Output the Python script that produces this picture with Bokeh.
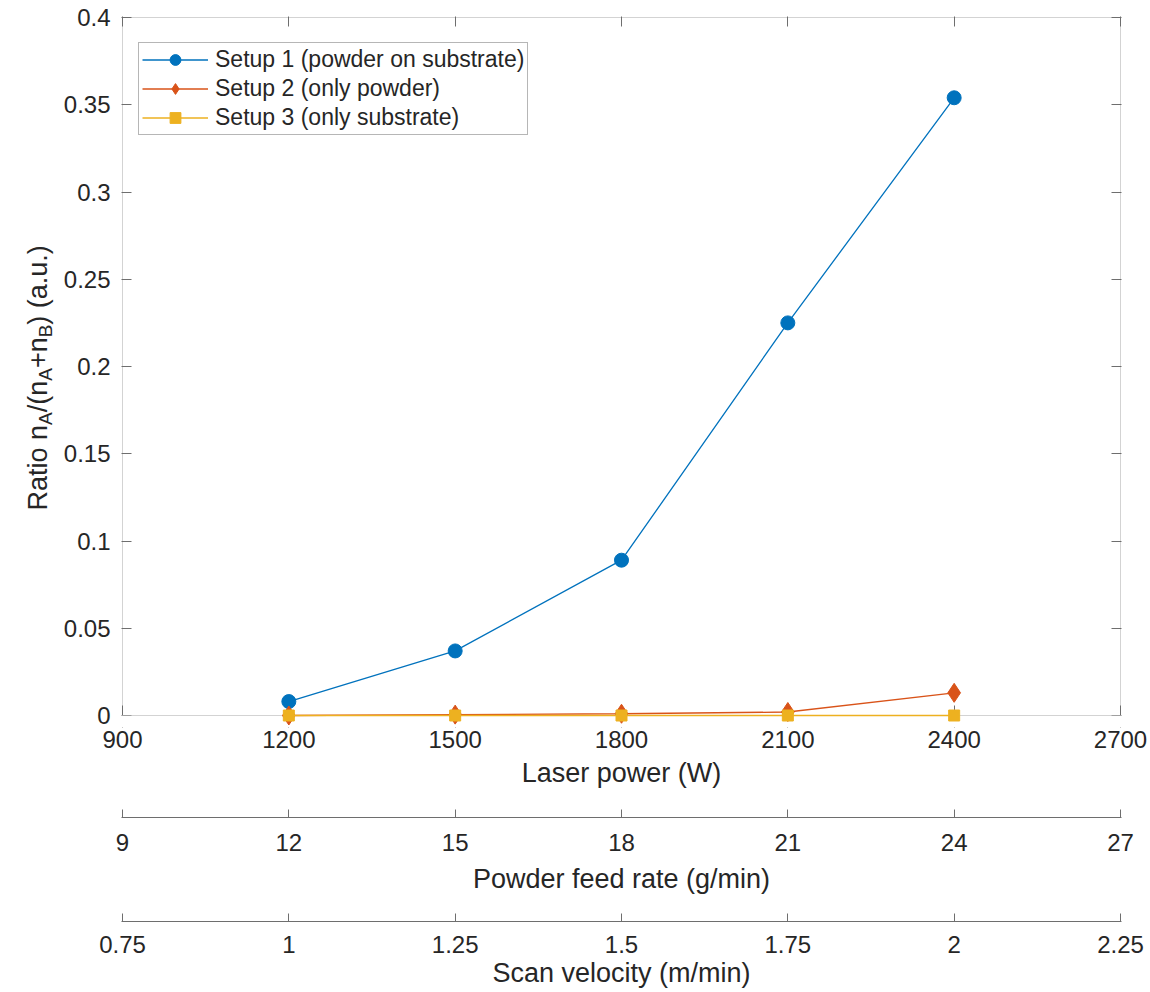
from bokeh.plotting import figure
from bokeh.layouts import row, column
from bokeh.models import (Range1d, LinearAxis, FixedTicker, BoxAnnotation,
                          Legend, LegendItem, CustomJSTickFormatter, ColumnDataSource)
from bokeh.core.properties import value
from bokeh.embed import file_html
from bokeh.resources import INLINE
import math

# ---------------- data ----------------
laser_power = [1200, 1500, 1800, 2100, 2400]
setup1 = [0.008, 0.037, 0.089, 0.225, 0.354]
setup2 = [0.0, 0.0005, 0.001, 0.002, 0.013]
setup3 = [0.0, 0.0, 0.0, 0.0, 0.0]
series_names = ["Setup 1 (powder on substrate)", "Setup 2 (only powder)", "Setup 3 (only substrate)"]

x_ticks = [900, 1200, 1500, 1800, 2100, 2400, 2700]
x_labels = ["900", "1200", "1500", "1800", "2100", "2400", "2700"]
feed_ticks = [9, 12, 15, 18, 21, 24, 27]
feed_labels = ["9", "12", "15", "18", "21", "24", "27"]
scan_ticks = [0.75, 1, 1.25, 1.5, 1.75, 2, 2.25]
scan_labels = ["0.75", "1", "1.25", "1.5", "1.75", "2", "2.25"]
y_ticks = [0, 0.05, 0.1, 0.15, 0.2, 0.25, 0.3, 0.35, 0.4]
y_labels = ["0", "0.05", "0.1", "0.15", "0.2", "0.25", "0.3", "0.35", "0.4"]

x_title = "Laser power (W)"
feed_title = "Powder feed rate (g/min)"
scan_title = "Scan velocity (m/min)"
# y title pieces: (text, is_subscript)
y_title_parts = [("Ratio n", False), ("A", True), ("/(n", False), ("A", True),
                 ("+n", False), ("B", True), (") (a.u.)", False)]

# ---------------- style ----------------
FONT = "Liberation Sans"
AX = "#6e6e6e"
TXT = "#262626"
C1, C2, C3 = "#0072BD", "#D95319", "#EDB120"
TICK_FS = "24px"
TITLE_FS = "27px"

BOX_W = 998          # pixel width of the box
BOX_H = 698          # pixel height of the 0..0.4 box
EXTRA = 12           # extra frame pixels below 0 so markers are not clipped
TITLE_W = 60         # width of the y-title strip
LEFT = 60            # left border of the plots (after the title strip)
RIGHT = 28


def padded(lo, hi):
    d = (hi - lo) / BOX_W
    return Range1d(lo - d, hi + d)


u = (y_ticks[-1] - y_ticks[0]) / BOX_H


def style_axis(ax, tick_in):
    ax.major_tick_in = tick_in
    ax.major_tick_out = 0
    ax.minor_tick_line_color = None
    ax.major_tick_line_color = AX
    ax.major_tick_line_width = 1
    ax.major_label_text_font = FONT
    ax.major_label_text_font_size = TICK_FS
    ax.major_label_text_color = TXT
    ax.axis_label_text_font = FONT
    ax.axis_label_text_font_size = TITLE_FS
    ax.axis_label_text_font_style = "normal"
    ax.axis_label_text_color = TXT


# ---------------- main plot ----------------
p = figure(frame_width=BOX_W + 2, frame_height=BOX_H + EXTRA + 1,
           x_range=padded(x_ticks[0], x_ticks[-1]),
           y_range=Range1d(y_ticks[0] - EXTRA * u, y_ticks[-1] + u),
           output_backend="svg", toolbar_location=None,
           min_border_left=LEFT, min_border_right=RIGHT, min_border_top=16, min_border_bottom=0,
           background_fill_color="white", border_fill_color="white")
p.grid.visible = False
p.outline_line_color = None

# white strip below zero hides the lower part of the bottom ticks
strip = BoxAnnotation(top=y_ticks[0], fill_color="white", fill_alpha=1, line_color=None, level="annotation")
p.add_layout(strip)
box = BoxAnnotation(left=x_ticks[0], right=x_ticks[-1], bottom=y_ticks[0], top=y_ticks[-1],
                    fill_color=None, line_color=AX, line_width=1, level="annotation")
p.add_layout(box)

ya = p.left[0]
style_axis(ya, 10)
ya.axis_line_color = None
ya.ticker = FixedTicker(ticks=y_ticks)
ya.major_label_overrides = dict(zip(y_ticks, y_labels))
ya.major_label_standoff = 11

xa = p.below[0]
style_axis(xa, 10 + EXTRA)
xa.axis_line_color = None
xa.ticker = FixedTicker(ticks=x_ticks)
xa.major_label_overrides = dict(zip(x_ticks, x_labels))
xa.major_label_standoff = 3
xa.axis_label = x_title
xa.axis_label_standoff = 7

blank = CustomJSTickFormatter(code="return ''")
top = LinearAxis(ticker=FixedTicker(ticks=x_ticks), formatter=blank)
style_axis(top, 10)
top.axis_line_color = None
top.major_label_text_font_size = "0px"
top.major_label_standoff = 0
p.add_layout(top, "above")
right = LinearAxis(ticker=FixedTicker(ticks=y_ticks), formatter=blank)
style_axis(right, 10)
right.axis_line_color = None
right.major_label_text_font_size = "0px"
right.major_label_standoff = 0
p.add_layout(right, "right")

l1 = p.line(laser_power, setup1, line_color=C1, line_width=1.3, level="overlay")
s1 = p.scatter(laser_power, setup1, marker="circle", size=14, fill_color=C1, line_color=C1, level="overlay")
l2 = p.line(laser_power, setup2, line_color=C2, line_width=1.3, level="overlay")
s2 = p.scatter(laser_power, setup2, marker="diamond", size=19, fill_color=C2, line_color=C2, level="overlay")
l3 = p.line(laser_power, setup3, line_color=C3, line_width=1.3, level="overlay")
s3 = p.scatter(laser_power, setup3, marker="square", size=11, fill_color=C3, line_color=C3, level="overlay")

LEG_H = 94
legend = Legend(items=[LegendItem(label=series_names[0], renderers=[l1, s1]),
                       LegendItem(label=series_names[1], renderers=[l2, s2]),
                       LegendItem(label=series_names[2], renderers=[l3, s3])],
                location=(17, BOX_H + EXTRA + 1 - 25 - LEG_H))
legend.label_text_font = FONT
legend.label_text_font_size = "23px"
legend.label_text_color = TXT
legend.glyph_width = 66
legend.glyph_height = 27
legend.label_height = 27
legend.spacing = 2
legend.padding = 3
legend.margin = 0
legend.label_standoff = 7
legend.border_line_color = AX
legend.border_line_width = 1
legend.background_fill_color = "white"
legend.background_fill_alpha = 1
p.add_layout(legend)


# ---------------- secondary axes (own strips) ----------------
def axis_strip(lo, hi, ticks, labels, title, gap, standoff, title_standoff):
    f = figure(frame_width=BOX_W + 2, frame_height=1, x_range=padded(lo, hi), y_range=Range1d(0, 1),
               output_backend="svg", toolbar_location=None, y_axis_location=None,
               min_border_left=LEFT, min_border_right=RIGHT, min_border_top=gap, min_border_bottom=0,
               background_fill_color="white", border_fill_color="white")
    f.grid.visible = False
    f.outline_line_color = None
    ax = f.below[0]
    style_axis(ax, 8)
    ax.axis_line_color = AX
    ax.axis_line_width = 1
    ax.ticker = FixedTicker(ticks=ticks)
    ax.major_label_overrides = dict(zip(ticks, labels))
    ax.major_label_standoff = standoff
    ax.axis_label = title
    ax.axis_label_standoff = title_standoff
    return f


feed_fig = axis_strip(feed_ticks[0], feed_ticks[-1], feed_ticks, feed_labels, feed_title, 26, 16, 10)
scan_fig = axis_strip(scan_ticks[0], scan_ticks[-1], scan_ticks, scan_labels, scan_title, 24, 14, 2)

# ---------------- y title strip (pixel coordinates) ----------------
TH = 788
t = figure(width=TITLE_W, height=TH, x_range=Range1d(0, TITLE_W), y_range=Range1d(0, TH),
           output_backend="svg", toolbar_location=None, x_axis_location=None, y_axis_location=None,
           min_border=0, background_fill_color="white", border_fill_color="white")
t.grid.visible = False
t.outline_line_color = None

WID = {"R": 722, "a": 556, "t": 278, "i": 222, "o": 556, " ": 278, "n": 556, "A": 667,
       "/": 278, "(": 333, "+": 584, "B": 667, ")": 333, ".": 278, "u": 556}
MAIN_PX, SUB_PX = 27, 19
base_x, sub_x = 37, 45
pos = TH - 510
main_src = dict(x=[], y=[], text=[])
sub_src = dict(x=[], y=[], text=[])
for txt, sub in y_title_parts:
    fs = SUB_PX if sub else MAIN_PX
    d = sub_src if sub else main_src
    d["x"].append(sub_x if sub else base_x)
    d["y"].append(pos)
    d["text"].append(txt)
    pos += sum(WID.get(ch, 556) for ch in txt) * fs / 1000.0

for d, fs in ((main_src, MAIN_PX), (sub_src, SUB_PX)):
    t.text(x="x", y="y", text="text", source=ColumnDataSource(d), angle=math.pi / 2,
           text_font=value(FONT), text_font_size=value(f"{fs}px"), text_color=TXT,
           text_align="left", text_baseline="alphabetic")

layout = row(t, column(p, feed_fig, scan_fig))
open("out.html", "w").write(file_html(layout, INLINE))
